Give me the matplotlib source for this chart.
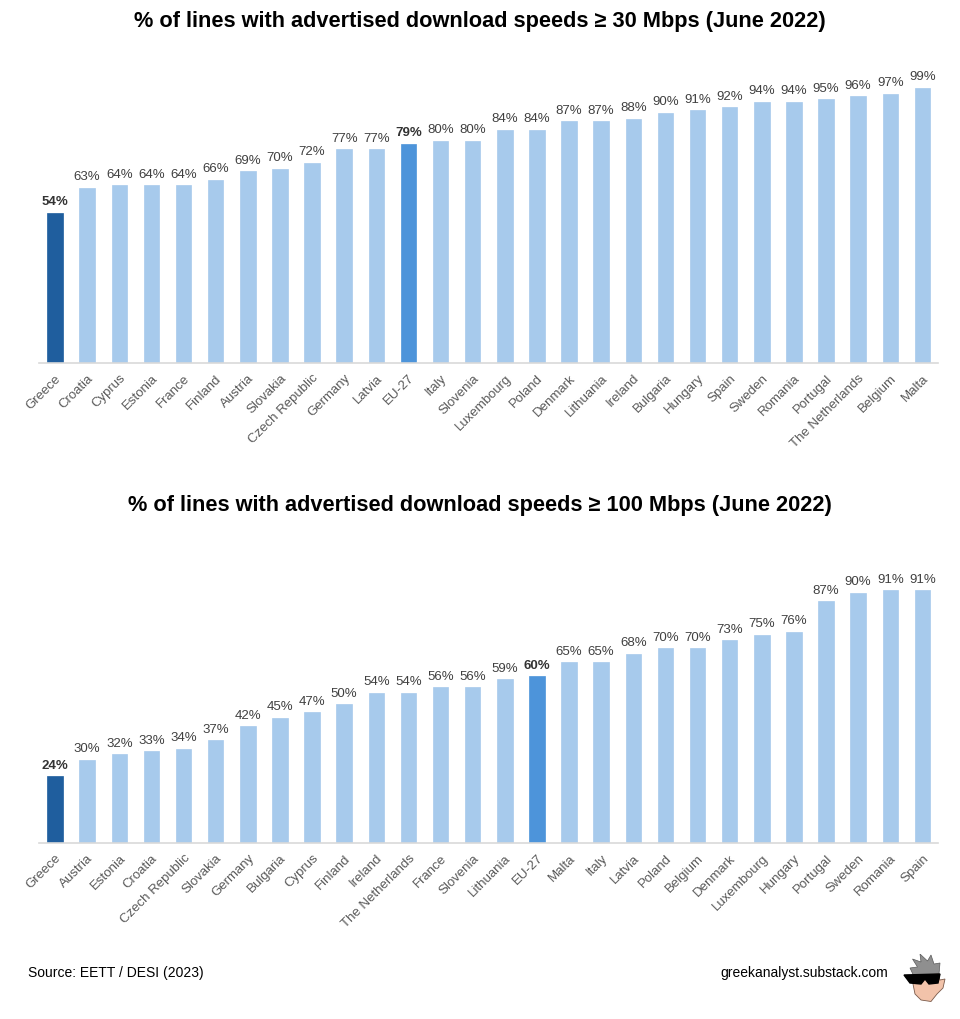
import numpy as np
import matplotlib
matplotlib.use('Agg')
import matplotlib.pyplot as plt
from matplotlib.patches import Polygon

plt.rcParams['font.family'] = ['Liberation Sans', 'DejaVu Sans']

# top chart: >= 30 Mbps
countries_30 = ['Greece', 'Croatia', 'Cyprus', 'Estonia', 'France', 'Finland', 'Austria',
                'Slovakia', 'Czech Republic', 'Germany', 'Latvia', 'EU-27', 'Italy', 'Slovenia',
                'Luxembourg', 'Poland', 'Denmark', 'Lithuania', 'Ireland', 'Bulgaria', 'Hungary',
                'Spain', 'Sweden', 'Romania', 'Portugal', 'The Netherlands', 'Belgium', 'Malta']
values_30 = [54, 63, 64, 64, 64, 66, 69, 70, 72, 77, 77, 79, 80, 80,
             84, 84, 87, 87, 88, 90, 91, 92, 94, 94, 95, 96, 97, 99]

# bottom chart: >= 100 Mbps
countries_100 = ['Greece', 'Austria', 'Estonia', 'Croatia', 'Czech Republic', 'Slovakia',
                 'Germany', 'Bulgaria', 'Cyprus', 'Finland', 'Ireland', 'The Netherlands',
                 'France', 'Slovenia', 'Lithuania', 'EU-27', 'Malta', 'Italy', 'Latvia', 'Poland',
                 'Belgium', 'Denmark', 'Luxembourg', 'Hungary', 'Portugal', 'Sweden', 'Romania',
                 'Spain']
values_100 = [24, 30, 32, 33, 34, 37, 42, 45, 47, 50, 54, 54, 56, 56, 59, 60,
              65, 65, 68, 70, 70, 73, 75, 76, 87, 90, 91, 91]

LIGHT = '#A7CAEC'
GREECE = '#1F5E9E'
EU = '#4D94DA'


def bar_panel(ax, names, vals):
    x = np.arange(len(names))
    colors = [GREECE if n == 'Greece' else EU if n == 'EU-27' else LIGHT for n in names]
    ax.bar(x, vals, width=0.48, color=colors, edgecolor=colors, linewidth=0.5)
    ax.set_xlim(-0.5, len(names) - 0.5)
    ax.set_ylim(0, 100)
    for s in ['top', 'right', 'left']:
        ax.spines[s].set_visible(False)
    ax.spines['bottom'].set_color('#D9D9D9')
    ax.spines['bottom'].set_linewidth(1.2)
    ax.set_yticks([])
    ax.set_xticks(x)
    ax.set_xticklabels(names, rotation=45, ha='right', rotation_mode='anchor',
                       fontsize=9.5, color='#595959')
    ax.tick_params(axis='x', length=0, pad=6)
    for xi, v, n in zip(x, vals, names):
        bold = n in ('Greece', 'EU-27')
        ax.annotate(f'{v:.0f}%', (xi, v), xytext=(0, 4), textcoords='offset points',
                    ha='center', va='bottom', fontsize=9.5,
                    color='#333333' if bold else '#404040',
                    fontweight='bold' if bold else 'normal', clip_on=False)


fig = plt.figure(figsize=(9.6, 10.2), dpi=100)
ax1 = fig.add_axes([0.0406, 0.643, 0.937, 0.2725])
ax2 = fig.add_axes([0.0406, 0.1725, 0.937, 0.2725])
bar_panel(ax1, countries_30, values_30)
bar_panel(ax2, countries_100, values_100)

fig.text(0.5, 1 - 22 / 1020, '% of lines with advertised download speeds \u2265 30 Mbps (June 2022)',
         ha='center', va='center', fontsize=15.7, fontweight='bold')
fig.text(0.5, 1 - 505 / 1020, '% of lines with advertised download speeds \u2265 100 Mbps (June 2022)',
         ha='center', va='center', fontsize=15.7, fontweight='bold')

fig.text(28 / 960, 1 - 973 / 1020, 'Source: EETT / DESI (2023)', ha='left', va='center',
         fontsize=10, color='black')
fig.text(888 / 960, 1 - 973 / 1020, 'greekanalyst.substack.com', ha='right', va='center',
         fontsize=10, color='black')

# small mascot logo
lg = fig.add_axes([900 / 960, 1 - 1005 / 1020, 50 / 960, 50 / 1020])
lg.set_xlim(0, 1)
lg.set_ylim(0, 1)
lg.axis('off')
lg.add_patch(Polygon([[0.28, 0.55], [0.2, 0.72], [0.35, 0.74], [0.25, 0.9], [0.42, 0.84],
                      [0.4, 1.0], [0.55, 0.86], [0.62, 0.98], [0.68, 0.8], [0.8, 0.82],
                      [0.78, 0.6], [0.7, 0.5]], closed=True,
                     facecolor='#8F8F8F', edgecolor='#5A5A5A', linewidth=0.5))
lg.add_patch(Polygon([[0.25, 0.55], [0.76, 0.6], [0.8, 0.48], [0.9, 0.5], [0.86, 0.32],
                      [0.74, 0.2], [0.62, 0.05], [0.42, 0.08], [0.3, 0.2], [0.26, 0.4]],
                     closed=True, facecolor='#F2C3AA', edgecolor='#7A5A4A', linewidth=0.6))
lg.add_patch(Polygon([[0.08, 0.58], [0.8, 0.6], [0.76, 0.42], [0.58, 0.4], [0.5, 0.5],
                      [0.42, 0.4], [0.2, 0.42]], closed=True, color='black'))

fig.savefig('out.png', dpi=100, facecolor='white')
